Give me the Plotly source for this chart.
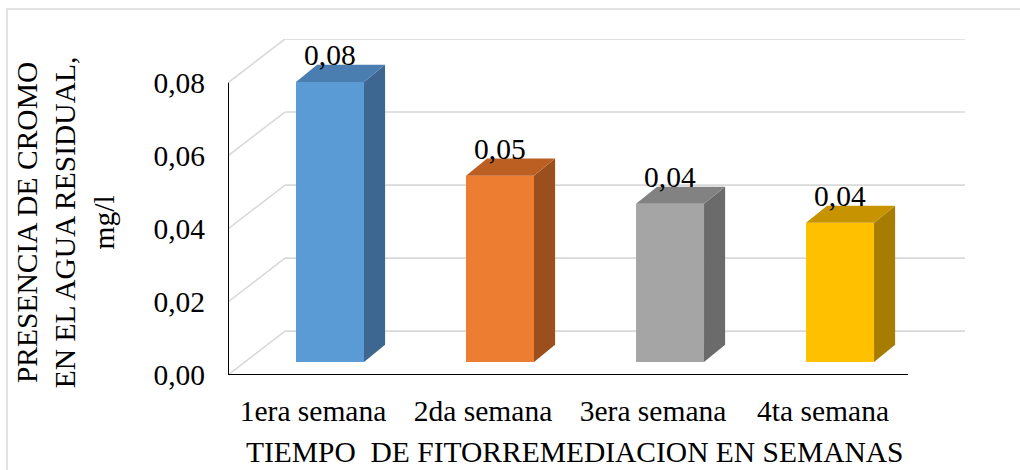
import plotly.graph_objects as go

# Chromium measured in the residual water per week of phytoremediation (mg/l)
weeks = ["1era semana", "2da semana", "3era semana", "4ta semana"]
chromium = [0.0767, 0.051, 0.0433, 0.0381]
y_ticks = [0.00, 0.02, 0.04, 0.06, 0.08]

front_colors = ["#5b9bd5", "#ed7d31", "#a5a5a5", "#ffc000"]
top_colors = ["#4a7db0", "#bb5f23", "#828282", "#c79400"]
side_colors = ["#3d6791", "#9a4f1c", "#6b6b6b", "#a67d00"]

FONT = "Liberation Serif"
FS = 29.5

# pseudo-3D geometry, in axis units
WALL_DX, WALL_DY = 0.335, 0.012      # depth of the back wall
OFF_DX, OFF_DY = 0.10, 0.00356       # bars sit a little behind the front plane
BAR_DX, BAR_DY = 0.124, 0.0047       # bar depth
BAR_W = 0.4
GRID = "#d9d9d9"

fig = go.Figure()
shapes = []

# back wall gridlines and the slanted lines on the side wall (kept under the bars)
for v in y_ticks:
    shapes.append(dict(type="line", xref="x", yref="y", x0=0, y0=v,
                       x1=WALL_DX, y1=v + WALL_DY, layer="below",
                       line=dict(color=GRID, width=1.6)))
    shapes.append(dict(type="line", xref="x", yref="y", x0=WALL_DX, y0=v + WALL_DY,
                       x1=4 + WALL_DX, y1=v + WALL_DY, layer="below",
                       line=dict(color=GRID, width=1.6)))

# bars: front face as a bar trace, side and top faces as filled polygons
for i, (v, fc, tc, sc) in enumerate(zip(chromium, front_colors, top_colors, side_colors)):
    c = i + 0.5 + OFF_DX
    xl, xr = c - BAR_W / 2, c + BAR_W / 2
    b = OFF_DY
    t = b + v
    fig.add_trace(go.Scatter(
        x=[xr, xr + BAR_DX, xr + BAR_DX, xr, xr],
        y=[b, b + BAR_DY, t + BAR_DY, t, b],
        fill="toself", fillcolor=sc, mode="lines", line=dict(width=0, color=sc),
        hoverinfo="skip", showlegend=False))
    fig.add_trace(go.Scatter(
        x=[xl, xl + BAR_DX, xr + BAR_DX, xr, xl],
        y=[t, t + BAR_DY, t + BAR_DY, t, t],
        fill="toself", fillcolor=tc, mode="lines", line=dict(width=0, color=tc),
        hoverinfo="skip", showlegend=False))
    fig.add_trace(go.Bar(
        x=[c], y=[v], base=[b], width=[BAR_W],
        marker=dict(color=fc, line=dict(width=0)),
        hoverinfo="skip", showlegend=False))
    fig.add_annotation(
        x=c, y=t + BAR_DY, text=f"{v:.2f}".replace(".", ","),
        showarrow=False, yanchor="middle", yshift=10,
        font=dict(family=FONT, size=FS, color="#000000"))

# front axis lines
fig.add_trace(go.Scatter(x=[0, 0], y=[0, max(y_ticks)], mode="lines",
                         line=dict(color="#000000", width=2),
                         hoverinfo="skip", showlegend=False))
fig.add_trace(go.Scatter(x=[0, 4], y=[0, 0], mode="lines",
                         line=dict(color="#000000", width=2),
                         hoverinfo="skip", showlegend=False))

# light frame around the whole chart
shapes.append(dict(type="rect", xref="paper", yref="paper",
                   x0=-0.2999, x1=1.2, y0=-0.5, y1=1.0893,
                   line=dict(color=GRID, width=1.5), fillcolor="rgba(0,0,0,0)",
                   layer="below"))

fig.update_layout(
    width=1020, height=470,
    margin=dict(l=228, r=55, t=39, b=95),
    paper_bgcolor="white", plot_bgcolor="white",
    separators=",.",
    barmode="overlay",
    font=dict(family=FONT, size=FS, color="#000000"),
    xaxis=dict(range=[0, 4 + WALL_DX], tickvals=[0.5, 1.5, 2.5, 3.5], ticktext=weeks,
               showgrid=False, zeroline=False, showline=False, ticks="",
               ticklabelstandoff=15, fixedrange=True),
    yaxis=dict(range=[0, max(y_ticks) + WALL_DY], tickvals=y_ticks, tickformat=".2f",
               showgrid=False, zeroline=False, showline=False, ticks="",
               ticklabelstandoff=22, fixedrange=True),
    shapes=shapes,
    annotations=list(fig.layout.annotations) + [
        dict(text="TIEMPO\u00a0 DE FITORREMEDIACION EN SEMANAS", xref="paper", yref="paper",
             x=0.4695, y=-0.229, showarrow=False, xanchor="center", yanchor="middle",
             font=dict(family=FONT, size=FS)),
        dict(text="PRESENCIA DE CROMO<br>EN EL AGUA RESIDUAL,<br>mg/l", xref="paper", yref="paper",
             x=-0.221, y=0.455, showarrow=False, textangle=-90,
             xanchor="center", yanchor="middle", align="center",
             font=dict(family=FONT, size=FS)),
    ],
)

fig.write_html("out.html")
